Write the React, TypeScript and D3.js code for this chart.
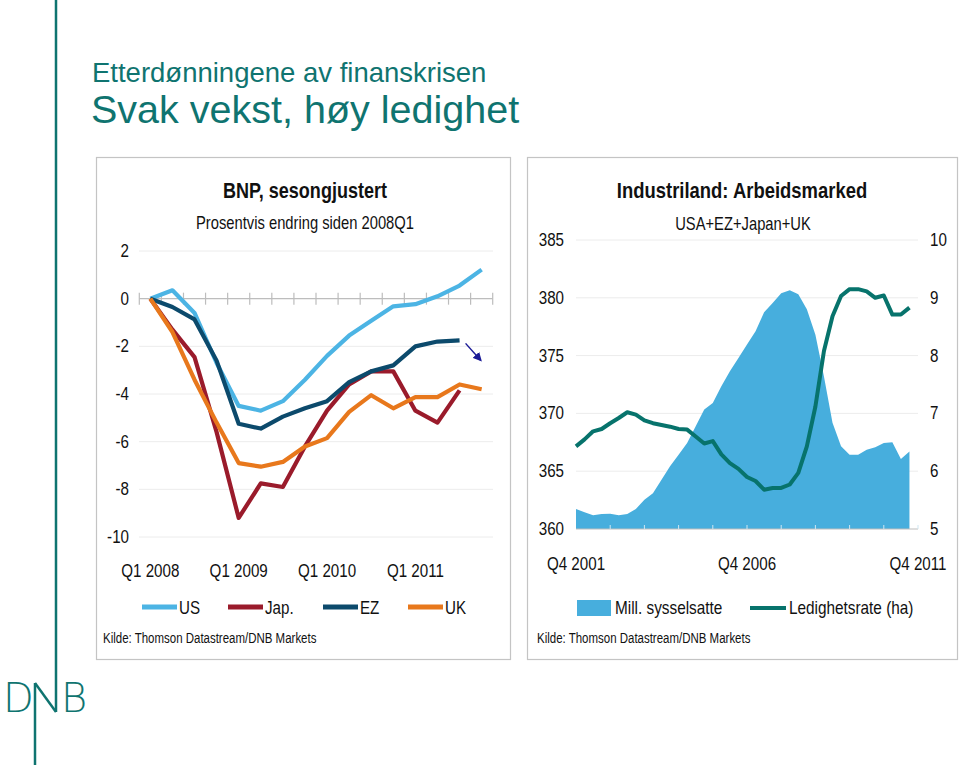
import React from "react";
import * as d3 from "d3";

// ---------- Left chart data (BNP, % change since 2008Q1) ----------
const gdpQuarters = [
  "Q1 2008", "Q2 2008", "Q3 2008", "Q4 2008",
  "Q1 2009", "Q2 2009", "Q3 2009", "Q4 2009",
  "Q1 2010", "Q2 2010", "Q3 2010", "Q4 2010",
  "Q1 2011", "Q2 2011", "Q3 2011", "Q4 2011",
];
const gdpTickLabels = ["Q1 2008", "Q1 2009", "Q1 2010", "Q1 2011"];
const usValues = [0, 0.35, -0.6, -2.7, -4.5, -4.7, -4.3, -3.4, -2.4, -1.55, -0.93, -0.32, -0.23, 0.1, 0.55, 1.22];
const japValues = [0, -1.3, -2.45, -5.6, -9.2, -7.75, -7.9, -6.2, -4.7, -3.6, -3.05, -3.05, -4.7, -5.2, -3.85];
const ezValues = [0, -0.35, -0.87, -2.6, -5.25, -5.45, -4.95, -4.6, -4.3, -3.5, -3.05, -2.8, -2.0, -1.8, -1.75];
const ukValues = [0, -1.4, -3.4, -5.2, -6.9, -7.05, -6.85, -6.2, -5.85, -4.75, -4.05, -4.6, -4.13, -4.13, -3.6, -3.8];
const gdpYTicks = [2, 0, -2, -4, -6, -8, -10];

// ---------- Right chart data (labour market) ----------
const lmStartYear = 2001; // first quarter is Q4 2001
const lmTickLabels = ["Q4 2001", "Q4 2006", "Q4 2011"];
const employment = [
  361.73, 361.44, 361.18, 361.3, 361.33, 361.18, 361.3, 361.73, 362.54, 363.1,
  364.27, 365.42, 366.43, 367.44, 368.88, 370.33, 370.9, 372.35, 373.64, 374.8,
  375.95, 377.1, 378.75, 379.56, 380.4, 380.65, 380.3, 379.0, 376.8, 373.2,
  369.2, 367.15, 366.43, 366.43, 366.86, 367.07, 367.44, 367.5, 366.06, 366.7,
];
const unemployment = [
  6.43, 6.55, 6.69, 6.73, 6.83, 6.92, 7.02, 6.98, 6.88, 6.83,
  6.8, 6.77, 6.73, 6.72, 6.6, 6.48, 6.52, 6.29, 6.14, 6.04,
  5.9, 5.83, 5.68, 5.71, 5.71, 5.77, 5.97, 6.43, 7.12, 8.08,
  8.68, 9.03, 9.15, 9.15, 9.11, 9.0, 9.04, 8.71, 8.71, 8.83,
];
const lmLeftTicks = [385, 380, 375, 370, 365, 360];
const lmRightTicks = [10, 9, 8, 7, 6, 5];

const lmQuarters: string[] = [];
for (let i = 0; i < 41; i++) {
  const q = ((3 + i) % 4) + 1;
  const y = lmStartYear + Math.floor((3 + i) / 4);
  lmQuarters.push(`Q${q} ${y}`);
}

const TEAL = "#0f7470";
const FONT = "'Liberation Sans', Arial, sans-serif";
const NARROW = 0.82;
const SERIES = [
  { name: "US", values: usValues, color: "#4cb4e4" },
  { name: "Jap.", values: japValues, color: "#9a1b2b" },
  { name: "EZ", values: ezValues, color: "#0c4a6c" },
  { name: "UK", values: ukValues, color: "#e8781c" },
];

type TProps = {
  x: number;
  y: number;
  size: number;
  anchor?: "start" | "middle" | "end";
  bold?: boolean;
  children: React.ReactNode;
};

function T({ x, y, size, anchor = "start", bold = false, children }: TProps) {
  return (
    <text
      transform={`translate(${x},${y}) scale(${NARROW},1)`}
      textAnchor={anchor}
      fontSize={size}
      fontWeight={bold ? "bold" : "normal"}
      fontFamily={FONT}
      fill="#111"
    >
      {children}
    </text>
  );
}

function LeftChart() {
  const x = d3.scaleBand<string>().domain(gdpQuarters).range([139.3, 492.7]).padding(0);
  const cx = (q: string) => (x(q) as number) + x.bandwidth() / 2;
  const y = d3.scaleLinear().domain([-10, 2]).range([537, 251]);
  const line = (vals: number[]) =>
    d3.line<number>().x((_, i) => cx(gdpQuarters[i])).y((v) => y(v))(vals) as string;
  const boundaries = gdpQuarters.map((q) => x(q) as number).concat([492.7]);
  const ezLast = ezValues.length - 1;
  const ax0 = cx(gdpQuarters[ezLast]) + 6;
  const ay0 = y(ezValues[ezLast]) + 3;
  const ax1 = cx(gdpQuarters[15]) - 1;
  const ay1 = y(-2.5) + 2;
  const legendX = [142, 228, 323, 408];
  return (
    <g>
      <rect x={96.5} y={157.5} width={414} height={502} fill="#fff" stroke="#c4c4c4" strokeWidth={1.2} />
      <T x={305} y={198} size={22} anchor="middle" bold>BNP, sesongjustert</T>
      <T x={305} y={229} size={18} anchor="middle">Prosentvis endring siden 2008Q1</T>
      {gdpYTicks.map((t) => (
        <g key={t}>
          {t !== 0 && <line x1={139} x2={493} y1={y(t)} y2={y(t)} stroke="#ececec" strokeWidth={1} />}
          <T x={129} y={y(t) + 6} size={18.5} anchor="end">{t}</T>
        </g>
      ))}
      <line x1={139.3} x2={492.7} y1={y(0)} y2={y(0)} stroke="#bdbdbd" strokeWidth={1.2} />
      {boundaries.map((b, i) => (
        <line key={i} x1={b} x2={b} y1={y(0) - 6} y2={y(0) + 6} stroke="#bdbdbd" strokeWidth={1.2} />
      ))}
      {SERIES.map((s) => (
        <path key={s.name} d={line(s.values)} fill="none" stroke={s.color} strokeWidth={4.2} strokeLinejoin="round" />
      ))}
      <defs>
        <marker id="arrowHead" viewBox="0 0 10 10" refX="8" refY="5" markerWidth="6" markerHeight="6" orient="auto">
          <path d="M0,0 L10,5 L0,10 z" fill="#1a1a96" />
        </marker>
      </defs>
      <line x1={ax0} y1={ay0} x2={ax1} y2={ay1} stroke="#1a1a96" strokeWidth={1.5} markerEnd="url(#arrowHead)" />
      {gdpTickLabels.map((l) => (
        <T key={l} x={cx(l)} y={577} size={18.5} anchor="middle">{l}</T>
      ))}
      {SERIES.map((s, i) => (
        <g key={s.name}>
          <line x1={legendX[i]} x2={legendX[i] + 35} y1={607} y2={607} stroke={s.color} strokeWidth={5} />
          <T x={legendX[i] + 37} y={614} size={18.5}>{s.name}</T>
        </g>
      ))}
      <T x={103} y={643} size={14}>Kilde: Thomson Datastream/DNB Markets</T>
    </g>
  );
}

function RightChart() {
  const x = d3.scaleLinear().domain([0, 40]).range([576, 918]);
  const yL = d3.scaleLinear().domain([360, 385]).range([529, 240]);
  const yR = d3.scaleLinear().domain([5, 10]).range([529, 240]);
  const area = d3.area<number>().x((_, i) => x(i)).y0(yL(360)).y1((v) => yL(v))(employment) as string;
  const uLine = d3.line<number>().x((_, i) => x(i)).y((v) => yR(v))(unemployment) as string;
  const yearTicks = d3.range(4, 41, 4);
  return (
    <g>
      <rect x={527.5} y={157.5} width={430} height={502} fill="#fff" stroke="#c4c4c4" strokeWidth={1.2} />
      <T x={742} y={198} size={22.5} anchor="middle" bold>Industriland: Arbeidsmarked</T>
      <T x={743} y={230} size={18} anchor="middle">USA+EZ+Japan+UK</T>
      {lmLeftTicks.map((t) => (
        <g key={t}>
          {t !== 360 && <line x1={576} x2={918} y1={yL(t)} y2={yL(t)} stroke="#ececec" strokeWidth={1} />}
          <T x={564} y={yL(t) + 6} size={18.5} anchor="end">{t}</T>
        </g>
      ))}
      {lmRightTicks.map((t) => (
        <T key={t} x={930} y={yR(t) + 6} size={18.5}>{t}</T>
      ))}
      <path d={area} fill="#47aedd" />
      <line x1={576} x2={918} y1={yL(360)} y2={yL(360)} stroke="#bdbdbd" strokeWidth={1.2} />
      {yearTicks.map((t) => (
        <line key={t} x1={x(t)} x2={x(t)} y1={yL(360) - 4} y2={yL(360)} stroke="#cfe6f2" strokeWidth={1} />
      ))}
      <path d={uLine} fill="none" stroke="#07736c" strokeWidth={4} strokeLinejoin="round" />
      {lmTickLabels.map((l) => (
        <T key={l} x={x(lmQuarters.indexOf(l))} y={570} size={18.5} anchor="middle">{l}</T>
      ))}
      <rect x={577} y={600} width={34} height={16} fill="#47aedd" />
      <T x={615} y={614} size={18.7}>Mill. sysselsatte</T>
      <line x1={750} x2={786} y1={608} y2={608} stroke="#07736c" strokeWidth={4} />
      <T x={789} y={614} size={18.7}>Ledighetsrate (ha)</T>
      <T x={537} y={643} size={14}>Kilde: Thomson Datastream/DNB Markets</T>
    </g>
  );
}

export default function App() {
  return (
    <svg width={960} height={765} style={{ position: "absolute", left: 0, top: 0, background: "#fff" }}>
      <rect width={960} height={765} fill="#fff" />
      {/* DNB logo */}
      <line x1={56} x2={56} y1={0} y2={712} stroke={TEAL} strokeWidth={2.5} />
      <line x1={35} x2={35} y1={683} y2={765} stroke={TEAL} strokeWidth={2.5} />
      <line x1={35} x2={56} y1={683} y2={712} stroke={TEAL} strokeWidth={2.5} />
      <text x={3} y={712} fontSize={40} fill={TEAL} fontFamily="'DejaVu Sans', sans-serif" fontWeight="300">D</text>
      <text x={61} y={712} fontSize={40} fill={TEAL} fontFamily="'DejaVu Sans', sans-serif" fontWeight="300">B</text>
      {/* Titles */}
      <text x={92} y={82} fontSize={27.5} fill={TEAL} fontFamily="'Liberation Sans', Arial, sans-serif">Etterdønningene av finanskrisen</text>
      <text x={91} y={123} fontSize={39.5} fill={TEAL} fontFamily="'Liberation Sans', Arial, sans-serif">Svak vekst, høy ledighet</text>
      <LeftChart />
      <RightChart />
    </svg>
  );
}
